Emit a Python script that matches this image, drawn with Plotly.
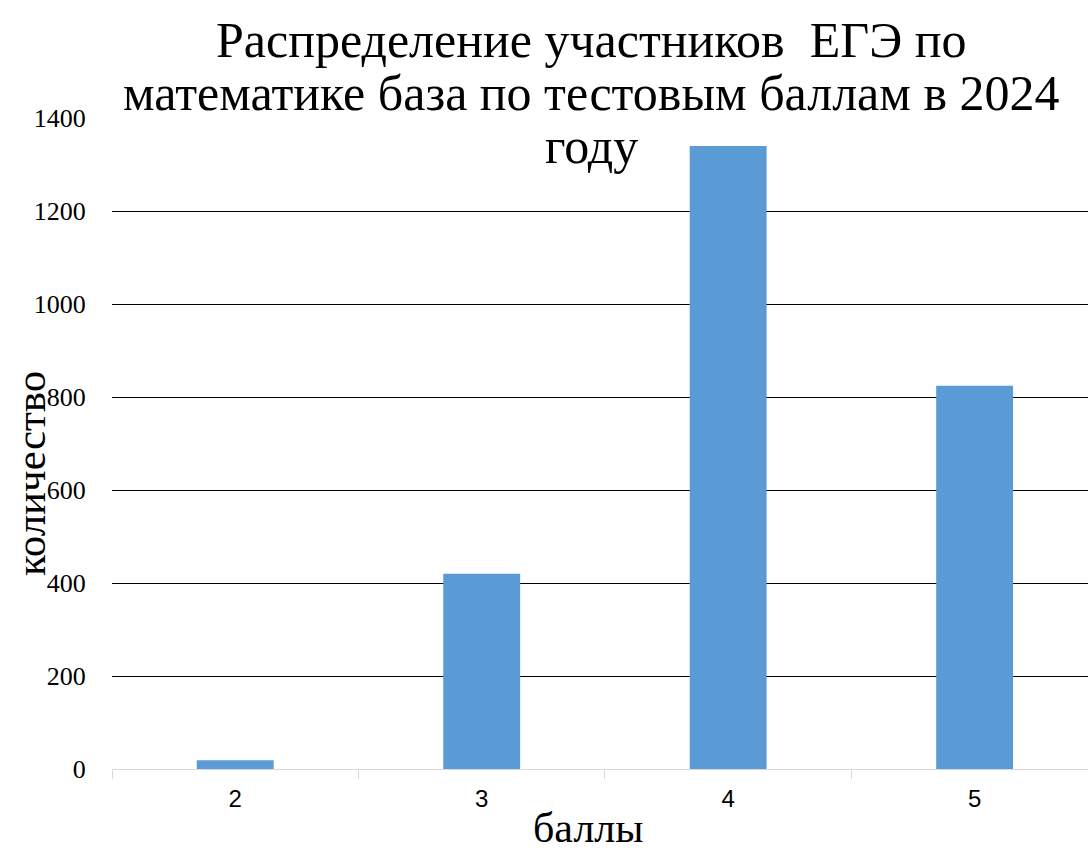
import plotly.graph_objects as go

# Распределение участников ЕГЭ (математика, база) по баллам, 2024
grades = ["2", "3", "4", "5"]
counts = [19, 420, 1340, 824]
y_ticks = [0, 200, 400, 600, 800, 1000, 1200, 1400]
title_lines = [
    "Распределение участников  ЕГЭ по",
    "математике база по тестовым баллам в 2024",
    "году",
]

W, H = 1088, 854
L, R, T, B = 112, 0, 118, 85
PW, PH = W - L - R, H - T - B

fig = go.Figure(
    go.Bar(
        x=grades,
        y=counts,
        marker=dict(color="#5B9BD5", line=dict(width=0)),
        hoverinfo="x+y",
    )
)

serif = "Liberation Serif, Times New Roman, serif"

fig.update_layout(
    width=W,
    height=H,
    margin=dict(l=L, r=R, t=T, b=B, pad=0),
    paper_bgcolor="white",
    plot_bgcolor="white",
    bargap=0.688,
    showlegend=False,
    font=dict(family=serif, color="black"),
)

fig.update_yaxes(
    range=[0, 1400],
    tickvals=y_ticks,
    ticktext=[str(v) for v in y_ticks],
    showgrid=True,
    gridcolor="black",
    gridwidth=1,
    zeroline=True,
    zerolinecolor="#D9D9D9",
    zerolinewidth=1,
    showline=False,
    ticks="outside",
    ticklen=20,
    tickcolor="rgba(0,0,0,0)",
    tickfont=dict(family=serif, size=26, color="black"),
)

# последняя категория немного обрезана правым краем
fig.update_xaxes(
    type="category",
    range=[-0.5, 3.46],
    showline=True,
    linecolor="#D9D9D9",
    linewidth=1,
    ticks="outside",
    tickson="boundaries",
    ticklen=9,
    tickcolor="#D9D9D9",
    ticklabelstandoff=8,
    tickfont=dict(family="Liberation Sans Narrow, Liberation Sans, Arial", size=24, color="black"),
    showgrid=False,
)

# Заголовок в три строки
title_y = [40, 93, 146]
for line, yp in zip(title_lines, title_y):
    fig.add_annotation(
        text=line,
        xref="paper", yref="paper",
        x=(591 - L) / PW,
        y=1 + (T - yp) / PH,
        xanchor="center", yanchor="middle",
        showarrow=False,
        font=dict(family=serif, size=50, color="black"),
    )

# Подписи осей
fig.add_annotation(
    text="баллы",
    xref="paper", yref="paper",
    x=(588 - L) / PW,
    y=-(H - 1 - (H - B)) / PH,
    xanchor="center", yanchor="bottom",
    showarrow=False,
    font=dict(family=serif, size=42, color="black"),
)
fig.add_annotation(
    text="количество",
    xref="paper", yref="paper",
    x=-(L - 30) / PW,
    y=1 - (474 - T) / PH,
    xanchor="center", yanchor="middle",
    textangle=-90,
    showarrow=False,
    font=dict(family=serif, size=43, color="black"),
)

fig.write_html("out.html")
